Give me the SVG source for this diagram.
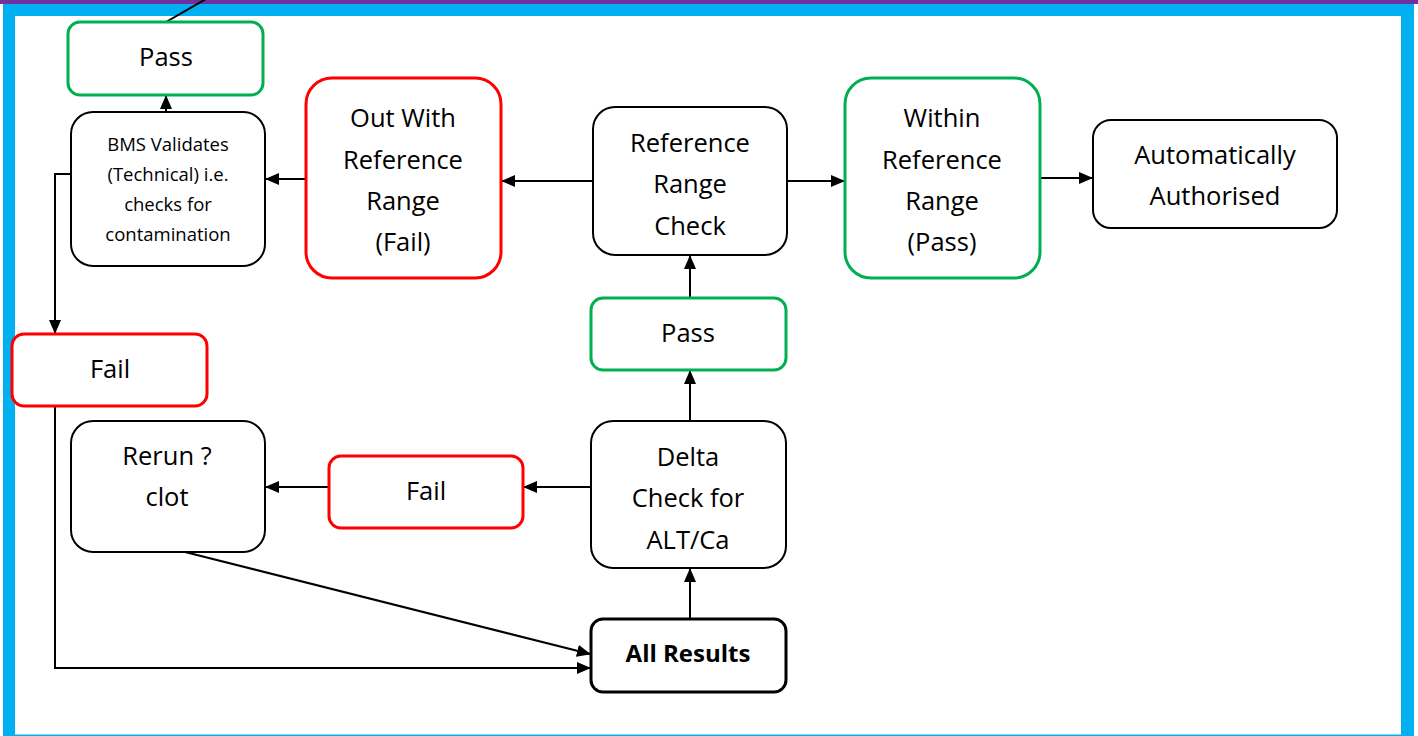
<svg xmlns="http://www.w3.org/2000/svg" width="1418" height="736" viewBox="0 0 1418 736">
  <style>
    .box { fill: #ffffff; stroke: #000000; stroke-width: 2; }
    .ok { fill: #ffffff; stroke: #00B050; stroke-width: 3; }
    .bad { fill: #ffffff; stroke: #FF0000; stroke-width: 3; }
    .heavy { fill: #ffffff; stroke: #000000; stroke-width: 3; }
    .t { font-family: "Open Sans", "Liberation Sans", sans-serif; font-size: 25.5px; fill: #000000; text-anchor: middle; }
    .s { font-family: "Open Sans", "Liberation Sans", sans-serif; font-size: 18.5px; fill: #000000; text-anchor: middle; }
    .b { font-weight: bold; font-size: 24px; }
    .link { fill: none; stroke: #000000; stroke-width: 2; }
  </style>
  <defs>
    <marker id="arrow" markerUnits="userSpaceOnUse" markerWidth="14" markerHeight="12" refX="13" refY="6" orient="auto">
      <path d="M0,0 L14,6 L0,12 Z" fill="#000000"/>
    </marker>
  </defs>

  <!-- page frame -->
  <rect x="0" y="0" width="1418" height="736" fill="#ffffff"/>
  <rect x="0" y="0" width="1418" height="4" fill="#7030A0"/>
  <rect x="3" y="4" width="1411" height="732" fill="#00B0F0"/>
  <rect x="15" y="16" width="1386" height="718.5" fill="#ffffff"/>

  <!-- connectors -->
  <g id="connectors">
    <line class="link" x1="166" y1="22" x2="206" y2="-1"/>
    <line class="link" x1="593" y1="181" x2="502" y2="181" marker-end="url(#arrow)"/>
    <line class="link" x1="787" y1="181" x2="844" y2="181" marker-end="url(#arrow)"/>
    <line class="link" x1="1040" y1="178" x2="1092" y2="178" marker-end="url(#arrow)"/>
    <line class="link" x1="306" y1="179" x2="266" y2="179" marker-end="url(#arrow)"/>
    <line class="link" x1="166" y1="112" x2="166" y2="96" marker-end="url(#arrow)"/>
    <polyline class="link" points="71,174 55,174 55,333" marker-end="url(#arrow)"/>
    <polyline class="link" points="55,406 55,668 590,668" marker-end="url(#arrow)"/>
    <line class="link" x1="185" y1="552" x2="590" y2="654" marker-end="url(#arrow)"/>
    <line class="link" x1="591" y1="487" x2="524" y2="487" marker-end="url(#arrow)"/>
    <line class="link" x1="329" y1="487" x2="266" y2="487" marker-end="url(#arrow)"/>
    <line class="link" x1="690" y1="619" x2="690" y2="569" marker-end="url(#arrow)"/>
    <line class="link" x1="690" y1="421" x2="690" y2="371" marker-end="url(#arrow)"/>
    <line class="link" x1="690" y1="298" x2="690" y2="256" marker-end="url(#arrow)"/>
  </g>

  <g id="pass-technical">
    <rect class="ok" x="68" y="22" width="195" height="73" rx="12"/>
    <text class="t" x="166" y="66">Pass</text>
  </g>

  <g id="bms-validates">
    <rect class="box" x="71" y="112" width="194" height="154" rx="22"/>
    <text class="s" x="168" y="151">BMS Validates</text>
    <text class="s" x="168" y="181">(Technical) i.e.</text>
    <text class="s" x="168" y="211">checks for</text>
    <text class="s" x="168" y="241">contamination</text>
  </g>

  <g id="out-with-range">
    <rect class="bad" x="306" y="78" width="195" height="200" rx="26"/>
    <text class="t" x="403" y="127">Out With</text>
    <text class="t" x="403" y="169">Reference</text>
    <text class="t" x="403" y="210">Range</text>
    <text class="t" x="403" y="251">(Fail)</text>
  </g>

  <g id="range-check">
    <rect class="box" x="593" y="107" width="194" height="148" rx="22"/>
    <text class="t" x="690" y="152">Reference</text>
    <text class="t" x="690" y="193">Range</text>
    <text class="t" x="690" y="235">Check</text>
  </g>

  <g id="within-range">
    <rect class="ok" x="845" y="78" width="195" height="200" rx="26"/>
    <text class="t" x="942" y="127">Within</text>
    <text class="t" x="942" y="169">Reference</text>
    <text class="t" x="942" y="210">Range</text>
    <text class="t" x="942" y="251">(Pass)</text>
  </g>

  <g id="auto-authorised">
    <rect class="box" x="1093" y="120" width="244" height="108" rx="18"/>
    <text class="t" x="1215" y="164">Automatically</text>
    <text class="t" x="1215" y="205">Authorised</text>
  </g>

  <g id="pass-delta">
    <rect class="ok" x="591" y="298" width="195" height="72" rx="12"/>
    <text class="t" x="688" y="342">Pass</text>
  </g>

  <g id="fail-technical">
    <rect class="bad" x="12" y="334" width="195" height="72" rx="12"/>
    <text class="t" x="110" y="378">Fail</text>
  </g>

  <g id="rerun-clot">
    <rect class="box" x="71" y="421" width="194" height="131" rx="22"/>
    <text class="t" x="167" y="465">Rerun ?</text>
    <text class="t" x="167" y="506">clot</text>
  </g>

  <g id="fail-delta">
    <rect class="bad" x="329" y="456" width="194" height="72" rx="12"/>
    <text class="t" x="426" y="500">Fail</text>
  </g>

  <g id="delta-check">
    <rect class="box" x="591" y="421" width="195" height="147" rx="22"/>
    <text class="t" x="688" y="466">Delta</text>
    <text class="t" x="688" y="507">Check for</text>
    <text class="t" x="688" y="549">ALT/Ca</text>
  </g>

  <g id="all-results">
    <rect class="heavy" x="591" y="619" width="195" height="73" rx="12"/>
    <text class="t b" x="688" y="662">All Results</text>
  </g>
</svg>
